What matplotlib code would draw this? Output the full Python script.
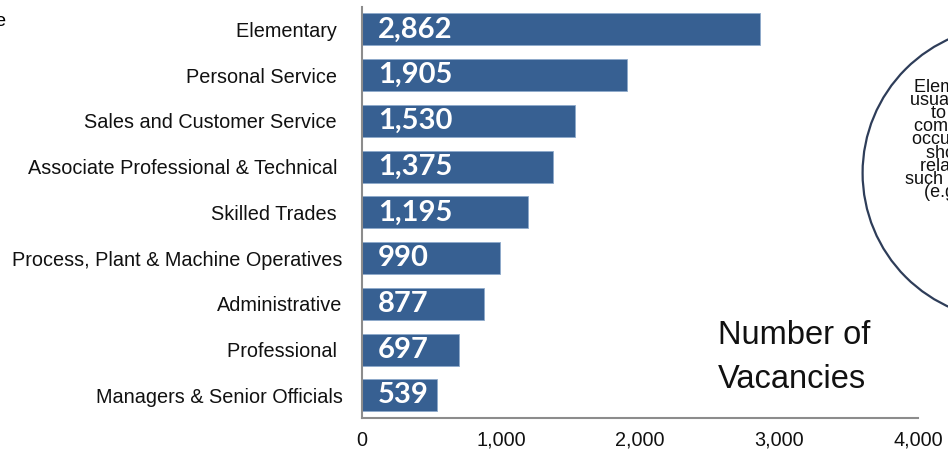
import matplotlib.pyplot as plt
from matplotlib.patches import Circle

# data
categories = ['Elementary ', 'Personal Service ', 'Sales and Customer Service ',
              'Associate Professional & Technical ', 'Skilled Trades ',
              'Process, Plant & Machine Operatives', 'Administrative',
              'Professional ', 'Managers & Senior Officials']
vacancies = [2862, 1905, 1530, 1375, 1195, 990, 877, 697, 539]
x_ticks = [0, 1000, 2000, 3000, 4000]
x_tick_labels = ['0', '1,000', '2,000', '3,000', '4,000']
note_lines = ['Elementary occupations',
              'usually require a minimal',
              'to moderate level of',
              'competences; these are',
              'occupations requiring no',
              'short training periods',
              'related to simple tasks',
              'such as cleaning or caring',
              '(e.g. kitchen workers)']

plt.rcParams['font.family'] = ['Liberation Sans', 'DejaVu Sans']

fig = plt.figure(figsize=(9.48, 4.57), dpi=100)
ax = fig.add_axes([0.3819, 0.0847, 0.9684 - 0.3819, 0.9856 - 0.0847])

bar_color = '#376092'
y = list(range(len(categories)))
ax.barh(y, vacancies, height=0.7, color=bar_color, edgecolor='#8eaacb', linewidth=0.6)

# value labels inside the bars
for yi, v in zip(y, vacancies):
    ax.annotate(f'{v:,}', xy=(0, yi), xytext=(11.5, 0), textcoords='offset points',
                ha='left', va='center', color='white', fontsize=21,
                fontweight='bold', family='Lato')

ax.set_yticks(y)
ax.set_yticklabels(categories, fontsize=14.3, color='#111111')
ax.set_xticks(x_ticks)
ax.set_xticklabels(x_tick_labels, fontsize=14.3, color='#111111')
ax.tick_params(axis='y', length=0, pad=14)
ax.tick_params(axis='x', length=0, pad=9)
ax.set_xlim(0, 4000)
ax.set_ylim(len(categories) - 0.5, -0.5)

for s in ['top', 'right']:
    ax.spines[s].set_visible(False)
for s in ['left', 'bottom']:
    ax.spines[s].set_color('#8c8c8c')
    ax.spines[s].set_linewidth(1.5)

fig.text(718 / 948, 1 - 388 / 457, 'Number of\nVacancies', fontsize=23.5,
         ha='left', va='baseline', linespacing=1.55, color='#111111')

# cut-off title fragment at the top left
fig.text(6 / 948, 1 - 26 / 457, 'Occupation type', fontsize=14, ha='right', va='baseline')

# explanatory bubble on the right, partly outside the figure
fig.add_artist(Circle((1009.6 / 100, (457 - 173) / 100), 1.47, transform=fig.dpi_scale_trans,
                      fill=False, edgecolor='#2e3d59', linewidth=1.6))
fig.text(1010 / 948, 1 - 140 / 457, '\n'.join(note_lines), fontsize=13, ha='center',
         va='center', multialignment='center', linespacing=0.70, color='#111111')

fig.savefig('out.png', dpi=100)
